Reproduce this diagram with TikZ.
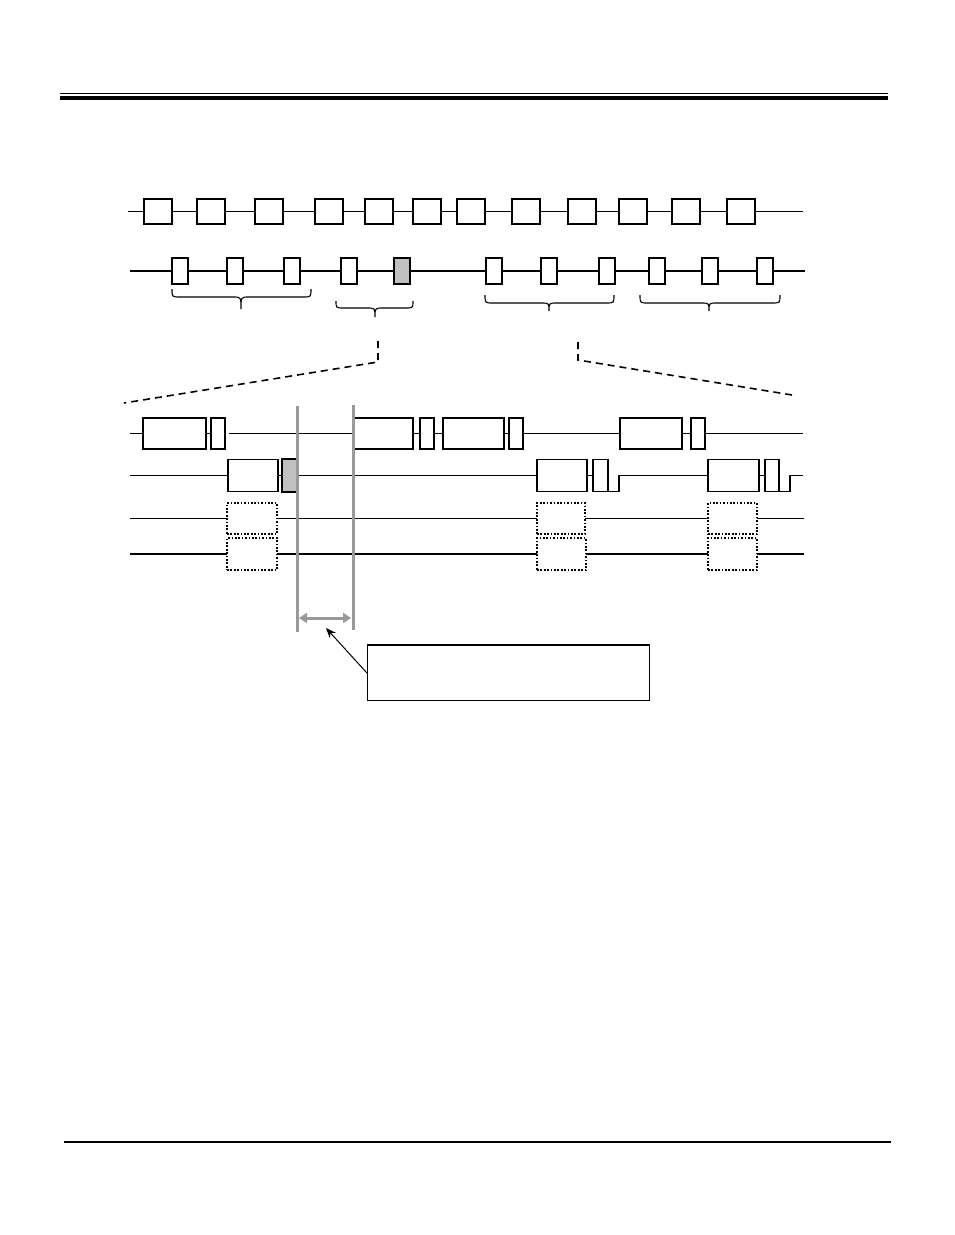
\documentclass[tikz,border=0pt]{standalone}
\usetikzlibrary{arrows.meta}
\definecolor{boxgray}{HTML}{C0C0C0}
\definecolor{guidegray}{HTML}{999999}
\tikzset{
  tl/.style={line width=1.1pt},
  tlthick/.style={line width=1.5pt},
  bx/.style={draw, line width=1.7pt, fill=white, inner sep=0pt, anchor=north west, outer sep=0pt},
  sbx/.style={bx, minimum width=16pt, minimum height=26pt},
  ubx/.style={bx, minimum width=28pt, minimum height=25pt},
  gbx/.style={bx, fill=boxgray},
  dbx/.style={draw, line width=1.6pt, dash pattern=on 1.7pt off 1.7pt, fill=white, inner sep=0pt, anchor=north west, outer sep=0pt},
  zoomline/.style={line width=1.6pt, dash pattern=on 7pt off 5pt},
  bracestyle/.style={line width=1.1pt},
  guide/.style={line width=3pt, draw=guidegray},
}
\newcommand{\brc}[6]{% x1 x2 ytop ymid ytip xc
  \draw[bracestyle] (#1,#3) .. controls (#1,#4) .. ({#1+8},#4) -- ({#6-8},#4) .. controls (#6,#4) .. (#6,#5) .. controls (#6,#4) .. ({#6+8},#4) -- ({#2-8},#4) .. controls (#2,#4) .. (#2,#3);}
\begin{document}
\begin{tikzpicture}[x=1pt,y=-1pt]
\useasboundingbox (0,0) rectangle (954,1235);

% header and footer rules
\coordinate (h1a) at (60,93.2); \coordinate (h1b) at (888,93.2);
\coordinate (h2a) at (60,97.8); \coordinate (h2b) at (888,97.8);
\draw[line width=1.4pt] (h1a) -- (h1b);
\draw[line width=4.2pt] (h2a) -- (h2b);
\coordinate (fa) at (64,1142); \coordinate (fb) at (891,1142);
\draw[line width=2.6pt] (fa) -- (fb);

% ---------- row 1 ----------
\coordinate (r1s) at (128,211.5); \coordinate (r1e) at (803,211.5);
\draw[tl] (r1s) -- (r1e);
\foreach \x [count=\i] in {144,197,255,315,365,413,457,512,568,619,672,727}
  \node[ubx] (u\i) at (\x,199) {};

% ---------- row 2 ----------
\coordinate (r2s) at (130,271); \coordinate (r2e) at (805,271);
\draw[tl] (r2s) -- (r2e);
\foreach \x [count=\i] in {172,227,284,341}
  \node[sbx] (s\i) at (\x,258) {};
\node[sbx, gbx] (s5) at (394,258) {};
\foreach \x [count=\i from 6] in {486,541,599,649,702,757}
  \node[sbx] (s\i) at (\x,258) {};

% braces
\brc{172}{311}{289}{297}{309}{241}
\brc{336}{413}{301}{308}{317}{375}
\brc{485}{614}{295}{303}{311}{549}
\brc{640}{780}{295}{303}{311}{709}

% zoom lines
\coordinate (zl1) at (378,341); \coordinate (zl2) at (378,362); \coordinate (zl3) at (124,403);
\coordinate (zr1) at (578,342); \coordinate (zr2) at (578,360); \coordinate (zr3) at (792,395);
\draw[zoomline] (zl1) -- (zl2) -- (zl3);
\draw[zoomline] (zr1) -- (zr2) -- (zr3);

% ---------- row A ----------
\node[bx, minimum width=63pt, minimum height=31pt] (a1) at (143,418) {};
\node[bx, minimum width=14pt, minimum height=31pt] (a1s) at (211,418) {};
\node[bx, minimum width=60pt, minimum height=31pt] (a2) at (353,418) {};
\node[bx, minimum width=14pt, minimum height=31pt] (a2s) at (420,418) {};
\node[bx, minimum width=61pt, minimum height=31pt] (a3) at (443,418) {};
\node[bx, minimum width=14pt, minimum height=31pt] (a3s) at (509,418) {};
\node[bx, minimum width=62pt, minimum height=31pt] (a4) at (620,418) {};
\node[bx, minimum width=14pt, minimum height=31pt] (a4s) at (691,418) {};
\coordinate (ras) at (130,433.5); \coordinate (rag) at (229,433.5); \coordinate (rae) at (803,433.5);
\draw[tl] (ras) -- (a1.west);
\draw[tl] (a1.east) -- (a1s.west);
\draw[tl] (rag) -- (a2.west);
\draw[tl] (a2.east) -- (a2s.west);
\draw[tl] (a2s.east) -- (a3.west);
\draw[tl] (a3.east) -- (a3s.west);
\draw[tl] (a3s.east) -- (a4.west);
\draw[tl] (a4.east) -- (a4s.west);
\draw[tl] (a4s.east) -- (rae);

% ---------- row B ----------
\node[bx, minimum width=50pt, minimum height=32pt] (b1) at (228,459.5) {};
\node[bx, gbx, minimum width=15pt, minimum height=33pt] (b1s) at (282,459) {};
\node[bx, minimum width=50pt, minimum height=32pt] (b2) at (537,459.5) {};
\node[bx, minimum width=15pt, minimum height=32pt] (b2s) at (593,459.5) {};
\node[bx, minimum width=51pt, minimum height=32pt] (b3) at (708,459.5) {};
\node[bx, minimum width=14pt, minimum height=32pt] (b3s) at (765,459.5) {};
\coordinate (rbs) at (130,475.5);
\coordinate (rbk1) at (619,491.5); \coordinate (rbk2) at (619,475.5);
\coordinate (rbk3) at (790,491.5); \coordinate (rbk4) at (790,475.5);
\coordinate (rbe) at (803,475.5);
\draw[tl] (rbs) -- (b1.west);
\draw[tl] (b1.east) -- (b1s.west);
\draw[tl] (b1s.east) -- (b2.west);
\draw[tl] (b2.east) -- (b2s.west);
\draw[tl] (b2s.south east) -- (rbk1) -- (rbk2) -- (b3.west);
\draw[tl] (b3.east) -- (b3s.west);
\draw[tl] (b3s.south east) -- (rbk3) -- (rbk4) -- (rbe);

% ---------- rows C and D ----------
\node[dbx, minimum width=50pt, minimum height=31pt] (c1) at (227,503) {};
\node[dbx, minimum width=48pt, minimum height=31pt] (c2) at (537,503) {};
\node[dbx, minimum width=49pt, minimum height=31pt] (c3) at (708,503) {};
\node[dbx, minimum width=50pt, minimum height=32pt] (d1) at (227,538) {};
\node[dbx, minimum width=49pt, minimum height=32pt] (d2) at (537,538) {};
\node[dbx, minimum width=49pt, minimum height=32pt] (d3) at (708,538) {};
\coordinate (rcs) at (130,518.5); \coordinate (rce) at (804,518.5);
\coordinate (rds) at (130,554); \coordinate (rde) at (804,554);
\draw[tlthick] (rcs) -- (c1.west);
\draw[tlthick] (c1.east) -- (c2.west);
\draw[tlthick] (c2.east) -- (c3.west);
\draw[tlthick] (c3.east) -- (rce);
\draw[tlthick] (rds) -- (d1.west);
\draw[tlthick] (d1.east) -- (d2.west);
\draw[tlthick] (d2.east) -- (d3.west);
\draw[tlthick] (d3.east) -- (rde);

% ---------- gray guides ----------
\coordinate (g1t) at (297,406); \coordinate (g1b) at (297,632);
\coordinate (g2t) at (353,405); \coordinate (g2b) at (353,630);
\draw[guide] (g1t) -- (g1b);
\draw[guide] (g2t) -- (g2b);
\coordinate (dal) at (299,618); \coordinate (dar) at (351,618);
\draw[guide, {Triangle[length=8pt,width=10pt]}-{Triangle[length=8pt,width=10pt]}] (dal) -- (dar);

% ---------- note ----------
\node[draw, line width=1.2pt, inner sep=0pt, anchor=north west, minimum width=282pt, minimum height=55pt] (note) at (367,645) {};
\draw[line width=2.4pt] (note.north west) -- (note.north east);
\coordinate (tip) at (326,628);
\draw[line width=1pt, -{Stealth[length=10pt,width=8pt]}] (note.west) -- (tip);
\end{tikzpicture}
\end{document}
